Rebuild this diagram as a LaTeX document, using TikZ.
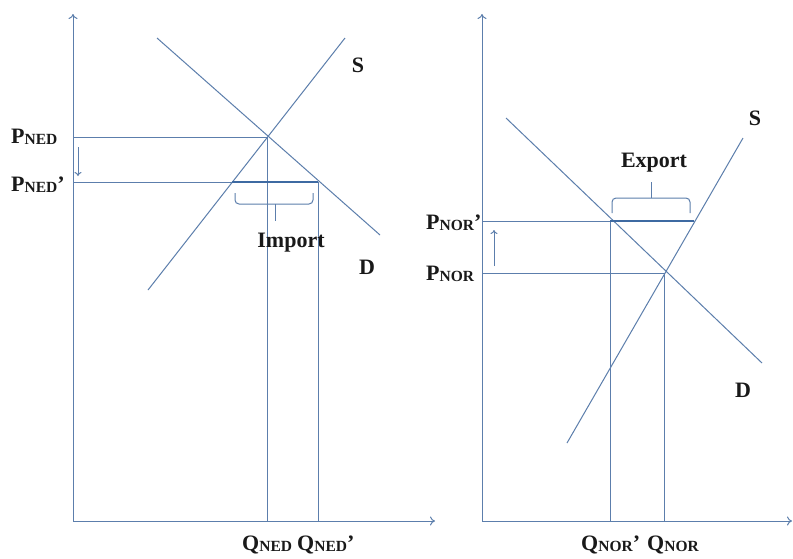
\documentclass[tikz,border=0pt]{standalone}
\usepackage{fontspec}
\setmainfont{Liberation Serif}
\usetikzlibrary{arrows.meta}
\definecolor{ln}{RGB}{92,126,172}
\definecolor{thk}{RGB}{62,106,162}
\definecolor{txt}{RGB}{25,25,25}
\newcommand{\lbl}[2]{#1\raisebox{-1.2pt}{\fontsize{15.5}{15.5}\selectfont #2}}
\begin{document}
\begin{tikzpicture}[x=1pt,y=-1pt,
  thin line/.style={draw=ln, line width=1pt},
  axis/.style={draw=ln, line width=1pt, -{To[length=5pt,width=9pt]}},
  thick seg/.style={draw=thk, line width=2.8pt},
  lab/.style={text=txt, font=\fontsize{22}{24}\selectfont\bfseries, inner sep=0pt},
  brc/.style={draw=ln, line width=1pt, rounded corners=4pt},
  pricearrow/.style={draw=ln, line width=1pt, -{To[length=4pt,width=7pt]}}]
\path[use as bounding box, fill=white] (0,0) rectangle (793,558);

% ---------- Left panel ----------
\coordinate (LO) at (73,521);
\coordinate (LYT) at (73,14);
\coordinate (LXR) at (435,521);
\draw[axis] (LO) -- (LYT);
\draw[axis] (LO) -- (LXR);
\coordinate (LS1) at (148,290);
\coordinate (LS2) at (345,38);
\coordinate (LD1) at (157,38);
\coordinate (LD2) at (380,235);
\draw[thin line] (LS1) -- (LS2);
\draw[thin line] (LD1) -- (LD2);
\coordinate (LE) at (267,137);
\coordinate (LPa) at (73,137);
\coordinate (LQa) at (267,521);
\draw[thin line] (LPa) -- (LE) -- (LQa);
\coordinate (LPb) at (73,182);
\coordinate (LSb) at (232,182);
\coordinate (LDb) at (318,182);
\coordinate (LQb) at (318,521);
\draw[thin line] (LPb) -- (LDb) -- (LQb);
\draw[thick seg] (LSb) -- (LDb);
% Import brace
\coordinate (LB1) at (235,193);
\coordinate (LB2) at (313,193);
\coordinate (LBm) at (275,204);
\coordinate (LBt) at (275,221);
\draw[brc] (LB1) -- (235,204) -- (313,204) -- (LB2);
\draw[brc] (LBm) -- (LBt);
\coordinate (LA1) at (78,147);
\coordinate (LA2) at (78,176);
\draw[pricearrow] (LA1) -- (LA2);
\node[lab, anchor=base west] (pned) at (11,143) {\lbl{P}{NED}};
\node[lab, anchor=base west] (pnedp) at (11,191) {\lbl{P}{NED}’};
\node[lab, anchor=base west] (qned) at (242,550) {\lbl{Q}{NED}};
\node[lab, anchor=base west] (qnedp) at (297,550) {\lbl{Q}{NED}’};
\node[lab, anchor=base] (import) at (291,247) {Import};
\node[lab] (ls) at (358,65) {S};
\node[lab] (ld) at (367,267) {D};

% ---------- Right panel ----------
\coordinate (RO) at (482,521);
\coordinate (RYT) at (482,14);
\coordinate (RXR) at (792,521);
\draw[axis] (RO) -- (RYT);
\draw[axis] (RO) -- (RXR);
\coordinate (RS1) at (567,443);
\coordinate (RS2) at (743,138);
\coordinate (RD1) at (506,118);
\coordinate (RD2) at (762,363);
\draw[thin line] (RS1) -- (RS2);
\draw[thin line] (RD1) -- (RD2);
\coordinate (RE) at (664,273);
\coordinate (RPa) at (482,273);
\coordinate (RQa) at (664,521);
\draw[thin line] (RPa) -- (RE) -- (RQa);
\coordinate (RPb) at (482,221);
\coordinate (RDb) at (610,221);
\coordinate (RSb) at (694,221);
\coordinate (RQb) at (610,521);
\draw[thin line] (RPb) -- (RSb);
\draw[thin line] (RDb) -- (RQb);
\draw[thick seg] (RDb) -- (RSb);
% Export brace
\coordinate (RB1) at (612,213);
\coordinate (RB2) at (690,213);
\coordinate (RBm) at (651,198);
\coordinate (RBt) at (651,182);
\draw[brc] (RB1) -- (612,198) -- (690,198) -- (RB2);
\draw[brc] (RBm) -- (RBt);
\coordinate (RA1) at (494,266);
\coordinate (RA2) at (494,230);
\draw[pricearrow] (RA1) -- (RA2);
\node[lab, anchor=base west] (pnorp) at (426,229) {\lbl{P}{NOR}’};
\node[lab, anchor=base west] (pnor) at (426,280) {\lbl{P}{NOR}};
\node[lab, anchor=base west] (qnorp) at (581,550) {\lbl{Q}{NOR}’};
\node[lab, anchor=base west] (qnor) at (647,550) {\lbl{Q}{NOR}};
\node[lab, anchor=base] (export) at (654,167) {Export};
\node[lab] (rs) at (755,118) {S};
\node[lab] (rd) at (743,390) {D};
\end{tikzpicture}
\end{document}
